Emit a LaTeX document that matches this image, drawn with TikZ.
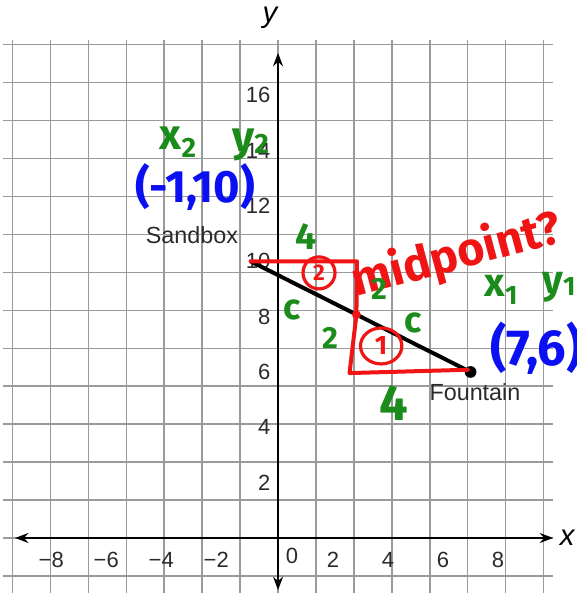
\documentclass[tikz,border=0pt]{standalone}
\usepackage{fontspec}
\setmainfont{Liberation Sans}
\newfontfamily\handfont{Fira Sans}
\usetikzlibrary{arrows.meta,shapes.geometric}
\definecolor{gridc}{HTML}{9A9A9A}
\definecolor{hgreen}{HTML}{1B8C1B}
\definecolor{hblue}{HTML}{0A10F2}
\definecolor{hred}{HTML}{F01414}
\definecolor{labc}{HTML}{2A2A2A}
\newcommand{\myfs}[1]{\fontsize{#1}{#1}\selectfont}
\begin{document}
\begin{tikzpicture}[x=20.625pt,y=20.75pt,
  gridline/.style={draw=gridc,line width=1.1pt},
  axisline/.style={draw=black,line width=1pt,{Stealth[length=10pt,width=7.5pt]}-{Stealth[length=10pt,width=7.5pt]}},
  ticklab/.style={text=labc,font=\myfs{16.5},inner sep=0pt},
  ptlab/.style={text=labc,font=\myfs{17.5},inner sep=0pt},
  axlab/.style={font=\itshape\myfs{22},inner sep=0pt},
  ghand/.style={text=hgreen,font=\handfont\bfseries\myfs{#1},inner sep=0pt},
  bhand/.style={text=hblue,font=\handfont\bfseries\myfs{#1},inner sep=0pt},
  rhand/.style={text=hred,font=\handfont\bfseries\myfs{#1},inner sep=0pt},
  segline/.style={draw=black,line width=3pt},
  redline/.style={draw=hred,line width=3pt,line join=round,line cap=round},
  redring/.style={draw=hred,line width=2.4pt,text=hred,font=\handfont\bfseries\myfs{#1},inner sep=0pt}
]
\useasboundingbox (-10.109,-1.988) rectangle (10.836,19.443);
\clip (-10.109,-1.988) rectangle (10.836,19.443);
% grid
\draw[gridline] (-10,-2) grid (10,18);
% axes
\coordinate (xl) at (-9.56,0);
\coordinate (xr) at (10.0,0);
\coordinate (yb) at (0,-1.88);
\coordinate (yt) at (0,17.53);
\draw[axisline] (xl) -- (xr);
\draw[axisline] (yb) -- (yt);
\node[axlab] (xname) at (10.51,0) {x};
\node[axlab] (yname) at (-0.29,18.79) {y};
% tick labels
\foreach \v in {2,4,...,16} {\node[ticklab,anchor=east] (yt\v) at (-0.27,\v) {\v};}
\foreach \v in {-8,-6,-4,-2} {\node[ticklab,anchor=east] (xt\v) at (\v+0.22,-0.8) {−\the\numexpr-\v\relax};}
\foreach \v in {2,4,6,8} {\node[ticklab] (xt\v) at (\v,-0.8) {\v};}
\node[ticklab] (xt0) at (0.51,-0.65) {0};
% points
\coordinate (S) at (-1,10);
\coordinate (F) at (7,6);
\coordinate (M) at (2.85,8.07);
\coordinate (tr) at (2.87,10.0);
\coordinate (bl) at (2.6,5.96);
\coordinate (br) at (6.9,6.08);
\draw[segline] (S) -- (F);
\fill[black] (F) circle (4.4pt);
\node[ptlab] (sand) at (-3.13,10.95) {Sandbox};
\node[ptlab] (fount) at (7.16,5.28) {Fountain};
% red annotations
\draw[redline] (S) -- (tr) -- (M) -- (bl) -- (br);
\fill[hred] (M) circle (3.3pt);
\node[redring=17,circle,minimum size=24pt] (c2) at (1.49,9.58) {2};
\node[redring=20,ellipse,minimum width=31pt,minimum height=27pt] (c1) at (3.75,6.94) {1};
\node[rhand=35,rotate=15,anchor=base west] (mid) at (2.85,8.71) {midpoint?};
% green annotations
\node[ghand=28] (g4top) at (1.02,10.91) {4};
\node[ghand=38] (g4bot) at (4.22,4.88) {4};
\node[ghand=23] (g2r) at (3.67,9.0) {2};
\node[ghand=23] (g2l) at (1.89,7.23) {2};
\node[ghand=27] (gcl) at (0.51,8.24) {c};
\node[ghand=27] (gcr) at (4.91,7.77) {c};
\node[ghand=32] (x2) at (-3.64,14.31) {x\raisebox{-0.35ex}{\myfs{21}2}};
\node[ghand=32] (y2) at (-1.0,14.2) {y\raisebox{-0.1ex}{\myfs{21}2}};
\node[ghand=30] (x1) at (8.11,8.96) {x\raisebox{-0.35ex}{\myfs{20}1}};
\node[ghand=30,anchor=west] (y1) at (9.6,9.07) {y\raisebox{-0.1ex}{\myfs{20}1}};
% blue annotations
\node[bhand=34] (p2) at (-3.02,12.69) {(-1,10)};
\node[bhand=38,anchor=west] (p1) at (7.71,6.87) {(7,6)};
\end{tikzpicture}
\end{document}
